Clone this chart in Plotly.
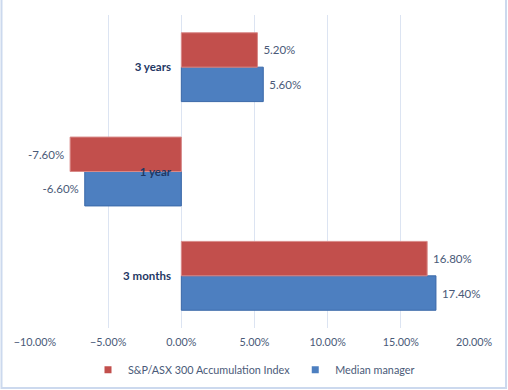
import plotly.graph_objects as go

categories = ["3 months", "1 year", "3 years"]
index_values = [0.168, -0.076, 0.052]
median_values = [0.174, -0.066, 0.056]
series_names = ["S&P/ASX 300 Accumulation Index", "Median manager"]
x_ticks = [-0.10, -0.05, 0.0, 0.05, 0.10, 0.15, 0.20]

W, H = 508, 390
ML, MR, MT, MB = 35, 34, 15, 62
FONT = "Lato, 'Open Sans', sans-serif"
TXT = "#4A5A78"
RED, BLUE = "#C24F4C", "#4D7FC0"
PAD = "\u00a0"


def label_templates(values):
    return [PAD + "%{x:.2%}" if v >= 0 else "%{x:.2%}" + PAD for v in values]


fig = go.Figure()
fig.add_trace(go.Bar(
    y=categories, x=median_values, name=series_names[1], orientation="h",
    marker=dict(color=BLUE, line=dict(color="#3A68A8", width=1)),
    texttemplate=label_templates(median_values), textposition="outside", cliponaxis=False,
    textfont=dict(color=TXT, size=11.5, family=FONT), showlegend=False,
))
fig.add_trace(go.Bar(
    y=categories, x=index_values, name=series_names[0], orientation="h",
    marker=dict(color=RED, line=dict(color="#D98A88", width=1)),
    texttemplate=label_templates(index_values), textposition="outside", cliponaxis=False,
    textfont=dict(color=TXT, size=11.5, family=FONT), showlegend=False,
))
# legend entries (small square keys)
for name, col in zip(series_names, [RED, BLUE]):
    fig.add_trace(go.Scatter(
        x=[None], y=[None], mode="markers", name=name,
        marker=dict(symbol="square", size=7, color=col), showlegend=True,
    ))

pw = W - ML - MR
ph = H - MT - MB
xr = [-0.10, 0.20]
zero_pos = (0 - xr[0]) / (xr[1] - xr[0])

fig.update_layout(
    width=W, height=H,
    margin=dict(l=ML, r=MR, t=MT, b=MB, autoexpand=False),
    paper_bgcolor="white", plot_bgcolor="white",
    barmode="group", bargap=0.34, bargroupgap=0,
    font=dict(family=FONT, color=TXT, size=11.5),
    showlegend=True,
    legend=dict(orientation="h", xref="container", yref="container",
                x=0.5, xanchor="center", y=0.052, yanchor="middle",
                font=dict(size=10.8, color=TXT, family=FONT),
                itemwidth=30, tracegroupgap=0),
    xaxis=dict(range=xr, tickvals=x_ticks, tickformat=".2%", showgrid=True,
               gridcolor="#DCE4F2", gridwidth=1, zeroline=False, showline=False,
               ticks="", automargin=False, fixedrange=True, ticklabelstandoff=6,
               tickfont=dict(size=10.8, color=TXT, family=FONT)),
    yaxis=dict(categoryorder="array", categoryarray=categories, anchor="free",
               position=zero_pos, showgrid=False, zeroline=False, showline=False,
               ticks="outside", ticklen=8, tickcolor="rgba(0,0,0,0)", automargin=False,
               fixedrange=True,
               tickfont=dict(size=11.5, color="#1F3864", family=FONT, weight="bold")),
    shapes=[dict(type="rect", xref="paper", yref="paper",
                 x0=(1.5 - ML) / pw, x1=(W - 2 - ML) / pw,
                 y0=-(H - 2 - MT - ph) / ph, y1=(H - MT - 1.5) / ph,
                 line=dict(color="#CCD9EE", width=2), layer="below")],
)

fig.write_html("out.html", config={"displayModeBar": False},
               post_script="document.body.style.margin='0';")
